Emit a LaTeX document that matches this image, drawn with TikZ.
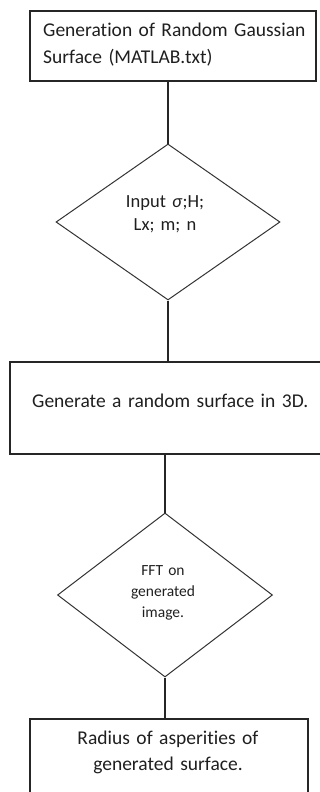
\documentclass[tikz,border=0pt]{standalone}
\usepackage{fontspec}
\setmainfont{Carlito}[Ligatures=NoCommon]
\usetikzlibrary{shapes.geometric}
\begin{document}
\begin{tikzpicture}[x=1pt,y=-1pt,
  box/.style={draw=black!85, line width=1.3pt, rectangle, inner sep=0pt},
  decision/.style={draw=black!80, line width=1pt, diamond, inner sep=0pt},
  link/.style={draw=black!85, line width=1.1pt},
  bigtext/.style={inner sep=0pt, text=black!88, font=\fontsize{19.5}{26.6}\selectfont},
  smalltext/.style={inner sep=0pt, text=black!88, align=center, text width=140pt}]
\clip (0,0) rectangle (320,792);
\useasboundingbox (0,0) rectangle (320,792);

% shapes of the flow chart
\node[box, minimum width=286pt, minimum height=70pt] (gen)    at (173,46)  {};
\node[decision, minimum width=224pt, minimum height=156pt] (input) at (168,222) {};
\node[box, minimum width=330pt, minimum height=92pt] (surf)   at (175,408) {};
\node[decision, minimum width=215pt, minimum height=164pt] (fft)   at (165,595) {};
\node[box, minimum width=278pt, minimum height=92pt] (radius) at (169,765) {};

% texts, placed by their first baseline
\node[bigtext, anchor=base west, text width=270pt, align=left] (gentext) at (43,37)
  {Generation of Random Gaussian\\Surface (MATLAB.txt)};
\node[smalltext, anchor=base, font=\fontsize{18.5}{23}\selectfont] (inputtext) at (165,207)
  {Input \textit{σ};H;\\Lx; m; n};
\node[bigtext, anchor=base west, text width=290pt, align=left] (surftext) at (32,407)
  {Generate a random surface in 3D.};
\node[smalltext, anchor=base, font=\fontsize{15.5}{21}\selectfont] (ffttext) at (163,575)
  {FFT on\\generated\\image.};
\node[bigtext, anchor=base, text width=260pt, align=center] (radiustext) at (168,744)
  {Radius of asperities of\\generated surface.};

% connectors
\draw[link] (input.north |- gen.south) -- (input.north);
\draw[link] (input.south) -- (input.south |- surf.north);
\draw[link] (fft.north |- surf.south) -- (fft.north);
\draw[link] (fft.south) -- (fft.south |- radius.north);
\end{tikzpicture}
\end{document}
